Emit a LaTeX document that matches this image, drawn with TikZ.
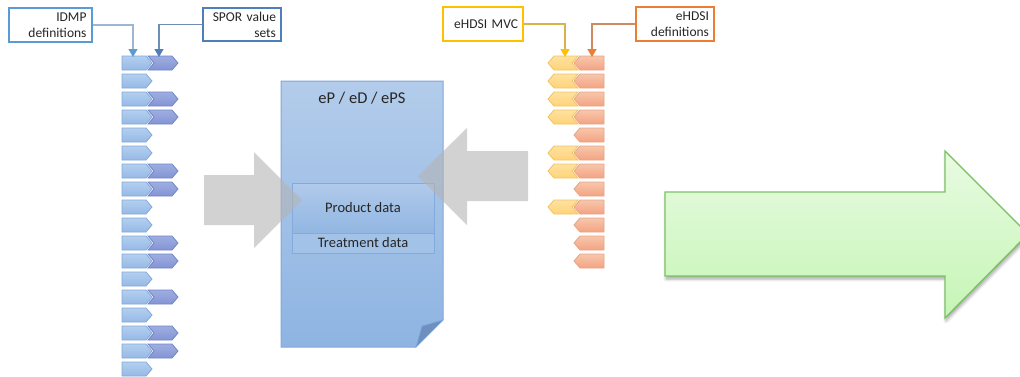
\documentclass[tikz,border=0pt]{standalone}
\usepackage{fontspec}
\setmainfont{Carlito}
\usetikzlibrary{arrows.meta,shadows.blur}

% palette
\definecolor{txt}{HTML}{262626}
\definecolor{idmpB}{HTML}{5B9BD5}
\definecolor{idmpL}{HTML}{9DB6D2}
\definecolor{sporB}{HTML}{4F7FB8}
\definecolor{sporL}{HTML}{6B8DB8}
\definecolor{mvcB}{HTML}{FFC000}
\definecolor{mvcL}{HTML}{D9B34A}
\definecolor{defB}{HTML}{ED7D31}
\definecolor{defL}{HTML}{D08A62}
\definecolor{lbTop}{HTML}{B3CFF0}
\definecolor{lbBot}{HTML}{96B9E6}
\definecolor{lbEdge}{HTML}{82A8D8}
\definecolor{dbTop}{HTML}{9EAEE2}
\definecolor{dbBot}{HTML}{8494D4}
\definecolor{dbEdge}{HTML}{6F84C6}
\definecolor{orTop}{HTML}{F8C6AC}
\definecolor{orBot}{HTML}{F2A382}
\definecolor{orEdge}{HTML}{E9A386}
\definecolor{yeTop}{HTML}{FFE2A0}
\definecolor{yeBot}{HTML}{FFD27A}
\definecolor{yeEdge}{HTML}{F2C55C}
\definecolor{docTop}{HTML}{B3CCEB}
\definecolor{docBot}{HTML}{8EB4E2}
\definecolor{docEdge}{HTML}{7FA8DA}
\definecolor{fold}{HTML}{6F90BE}
\definecolor{inTop}{HTML}{B0CAEA}
\definecolor{inBot}{HTML}{92B6E2}
\definecolor{inEdge}{HTML}{84AADB}
\definecolor{trFill}{HTML}{A3C2E7}
\definecolor{flow}{HTML}{B4B4B4}
\definecolor{grTop}{HTML}{E8FBE2}
\definecolor{grBot}{HTML}{C5F5B5}
\definecolor{grEdge}{HTML}{7CC264}

\tikzset{
  lbl/.style={draw, fill=white, line width=1.3pt, align=right, inner sep=0pt,
    font=\fontsize{13.5}{16}\selectfont, text=txt},
  feed/.style={line width=1.2pt},
  lightchev/.style={shade, top color=lbTop, bottom color=lbBot, draw=lbEdge, line width=0.8pt},
  darkchev/.style={shade, top color=dbTop, bottom color=dbBot, draw=dbEdge, line width=0.8pt},
  orchev/.style={shade, top color=orTop, bottom color=orBot, draw=orEdge, line width=0.8pt},
  yechev/.style={shade, top color=yeTop, bottom color=yeBot, draw=yeEdge, line width=0.8pt},
  flowarrow/.style={fill=flow, fill opacity=0.6, draw=none},
}

\begin{document}
\begin{tikzpicture}[x=1pt, y=-1pt]
\useasboundingbox (0,0) rectangle (1020,376);

% ---- left column: IDMP / SPOR chevrons ----
\foreach \i in {0,...,17} {
  \pgfmathsetmacro\y{63+18*\i}
  \path[lightchev] (122,\y-7) -- (146,\y-7) -- (152,\y) -- (146,\y+7) -- (122,\y+7) -- cycle;
}
\foreach \i in {0,2,3,6,7,10,11,13,15,16} {
  \pgfmathsetmacro\y{63+18*\i}
  \path[darkchev] (148,\y-7) -- (172,\y-7) -- (178,\y) -- (172,\y+7) -- (148,\y+7) -- (154,\y) -- cycle;
}

% ---- right column: eHDSI chevrons ----
\foreach \i in {0,...,11} {
  \pgfmathsetmacro\y{63+18*\i}
  \path[orchev] (604,\y-7) -- (604,\y+7) -- (580,\y+7) -- (574,\y) -- (580,\y-7) -- cycle;
}
\foreach \i in {0,1,2,3,5,6,8} {
  \pgfmathsetmacro\y{63+18*\i}
  \path[yechev] (578,\y-7) -- (572,\y) -- (578,\y+7) -- (554,\y+7) -- (548,\y) -- (554,\y-7) -- cycle;
}

% ---- source labels ----
\node[lbl, draw=idmpB, minimum width=83pt, minimum height=34pt, text width=72pt] (idmp) at (50.5,25) {IDMP\\definitions};
\node[lbl, draw=sporB, minimum width=78pt, minimum height=33pt, text width=68pt] (spor) at (242,24.5) {SPOR value\\sets};
\node[lbl, draw=mvcB, minimum width=80pt, minimum height=34pt, text width=70pt] (mvc) at (483,24) {eHDSI MVC};
\node[lbl, draw=defB, minimum width=78pt, minimum height=34pt, text width=68pt] (defs) at (675,24) {eHDSI\\definitions};

\coordinate (idmpIn) at (133,57);
\coordinate (sporIn) at (159,57);
\coordinate (mvcIn) at (565,57);
\coordinate (defsIn) at (592,57);

\draw[feed, draw=idmpL, -{Triangle[length=8pt,width=9pt,color=idmpB]}] (idmp.east) -| (idmpIn);
\draw[feed, draw=sporL, -{Triangle[length=8pt,width=9pt,color=sporB]}] (spor.west) -| (sporIn);
\draw[feed, draw=mvcL, -{Triangle[length=8pt,width=9pt,color=mvcB]}] (mvc.east) -| (mvcIn);
\draw[feed, draw=defL, -{Triangle[length=8pt,width=9pt,color=defB]}] (defs.west) -| (defsIn);

% ---- document ----
\path[shade, top color=docTop, bottom color=docBot, draw=docEdge, line width=1pt]
  (281,81) -- (443,81) -- (443,320) -- (416,347) -- (281,347) -- cycle;
\path[fill=fold, draw=docEdge, line width=0.6pt] (443,320) -- (422,326) -- (416,347) -- cycle;
\node[font=\fontsize{16.5}{18}\selectfont, text=txt] (doctitle) at (362,98) {eP / eD / ePS};

\node[shade, top color=inTop, bottom color=inBot, draw=inEdge, line width=0.8pt,
      minimum width=142pt, minimum height=50pt, inner sep=0pt,
      font=\fontsize{14.5}{16}\selectfont, text=txt] (product) at (363,208) {Product data};
\node[fill=trFill, draw=inEdge, line width=0.8pt,
      minimum width=142pt, minimum height=20pt, inner sep=0pt,
      font=\fontsize{14.5}{16}\selectfont, text=txt] (treatment) at (363,243) {Treatment data};

% ---- inflow arrows into the document ----
\path[flowarrow] (204,175) -- (254,175) -- (254,152) -- (302,200) -- (254,248) -- (254,225) -- (204,225) -- cycle;
\path[flowarrow] (528,151) -- (467,151) -- (467,128) -- (418,176) -- (467,225) -- (467,201) -- (528,201) -- cycle;

% ---- outflow arrow ----
\begin{scope}
  \clip (0,0) rectangle (1020,376);
  \path[shade, top color=grTop, bottom color=grBot, draw=grEdge, line width=1.3pt,
        blur shadow={shadow xshift=1pt, shadow yshift=-3pt, shadow blur radius=3pt, shadow opacity=35}]
    (665,192) -- (945,192) -- (945,151) -- (1028,234) -- (945,318) -- (945,276) -- (665,276) -- cycle;
\end{scope}
\end{tikzpicture}
\end{document}
